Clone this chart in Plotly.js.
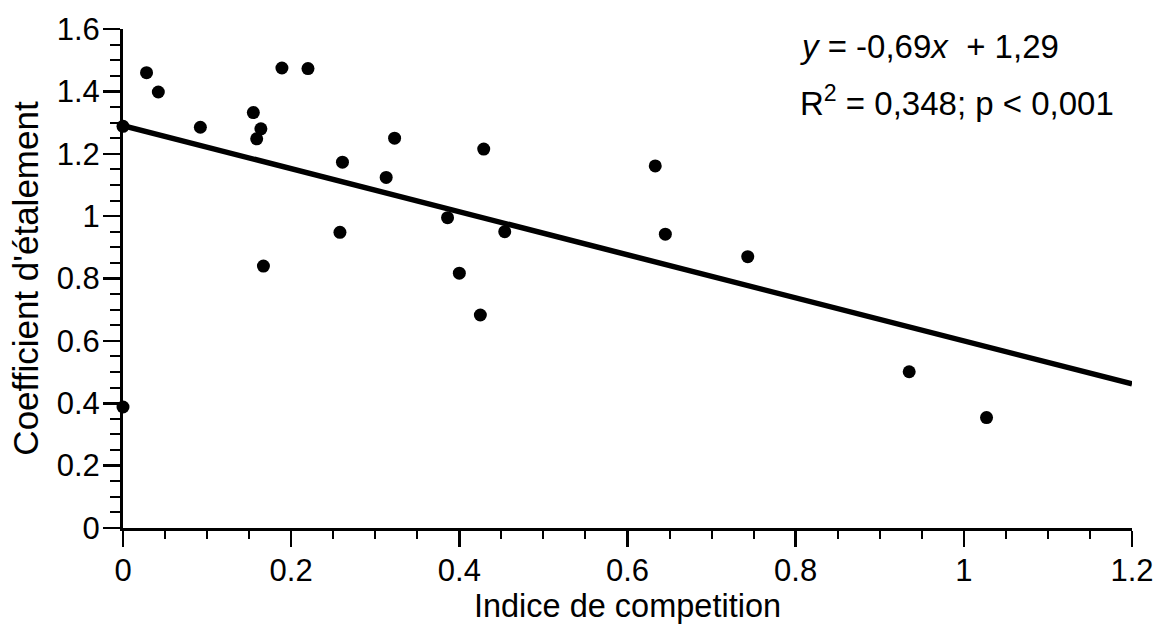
<!DOCTYPE html>
<html>
<head>
<meta charset="utf-8">
<script src="https://cdn.plot.ly/plotly-3.0.1.min.js"></script>
<style>
  html, body { margin: 0; padding: 0; background: #fff; }
  #chart { width: 1159px; height: 625px; }
</style>
</head>
<body>
<div id="chart"></div>
<script>
// Competition index vs. spreading coefficient, one point per observation
const competitionIndex = [
  0.000, 0.000, 0.028, 0.042, 0.092, 0.155, 0.159, 0.164, 0.167, 0.189,
  0.220, 0.258, 0.261, 0.313, 0.323, 0.386, 0.400, 0.425, 0.429, 0.454,
  0.633, 0.645, 0.743, 0.935, 1.027
];
const spreadCoefficient = [
  1.288, 0.388, 1.460, 1.398, 1.285, 1.332, 1.248, 1.280, 0.840, 1.475,
  1.473, 0.948, 1.173, 1.124, 1.250, 0.995, 0.817, 0.683, 1.215, 0.950,
  1.161, 0.942, 0.870, 0.501, 0.354
];

// Fitted regression: y = slope * x + intercept
const slope = -0.69;
const intercept = 1.29;
const fitX = [0, 1.2];
const fitY = fitX.map(x => slope * x + intercept);

const xTitle = "Indice de competition";
const yTitle = "Coefficient d'étalement";
const eqText = "<i>y</i> = -0,69<i>x</i>  + 1,29";
const statText = "R<sup>2</sup> = 0,348; p < 0,001";

const FONT = "'Liberation Sans', Arial, Helvetica, sans-serif";

const traces = [
  {
    x: fitX, y: fitY,
    type: "scatter", mode: "lines",
    line: { color: "#000", width: 5.5 },
    cliponaxis: false,
    hoverinfo: "skip"
  },
  {
    x: competitionIndex, y: spreadCoefficient,
    type: "scatter", mode: "markers",
    marker: { color: "#000", size: 13 },
    cliponaxis: false
  }
];

const axisCommon = {
  showgrid: false,
  zeroline: false,
  showline: true,
  linecolor: "#000",
  linewidth: 3,
  ticks: "outside",
  ticklen: 16,
  tickwidth: 2.5,
  tickcolor: "#000",
  tickfont: { family: FONT, size: 31, color: "#000" },
  mirror: false
};

const layout = {
  width: 1159,
  height: 625,
  paper_bgcolor: "#fff",
  plot_bgcolor: "#fff",
  showlegend: false,
  margin: { l: 123, r: 27, t: 29, b: 97 },
  font: { family: FONT, color: "#000" },
  xaxis: Object.assign({}, axisCommon, {
    range: [0, 1.2],
    tickmode: "linear", tick0: 0, dtick: 0.2,
    ticklabelstandoff: -3,
    minor: { dtick: 0.05, ticks: "outside", ticklen: 8, tickwidth: 2, tickcolor: "#000" },
    title: { text: xTitle, font: { family: FONT, size: 32.5, color: "#000" }, standoff: 8 }
  }),
  yaxis: Object.assign({}, axisCommon, {
    range: [0, 1.6],
    tickmode: "linear", tick0: 0, dtick: 0.2,
    ticklen: 17,
    ticklabelstandoff: -3,
    minor: { dtick: 0.05, ticks: "outside", ticklen: 10, tickwidth: 2, tickcolor: "#000" },
    title: { text: yTitle, font: { family: FONT, size: 35, color: "#000" }, standoff: 8 }
  }),
  annotations: [
    {
      xref: "paper", yref: "paper", x: 0.669, y: 0.964,
      xanchor: "left", yanchor: "middle", showarrow: false,
      text: eqText, font: { family: FONT, size: 33, color: "#000" }
    },
    {
      xref: "paper", yref: "paper", x: 0.669, y: 0.856,
      xanchor: "left", yanchor: "middle", showarrow: false,
      text: statText, font: { family: FONT, size: 33, color: "#000" }
    }
  ]
};

Plotly.newPlot("chart", traces, layout, { displayModeBar: false, staticPlot: true });
</script>
</body>
</html>
